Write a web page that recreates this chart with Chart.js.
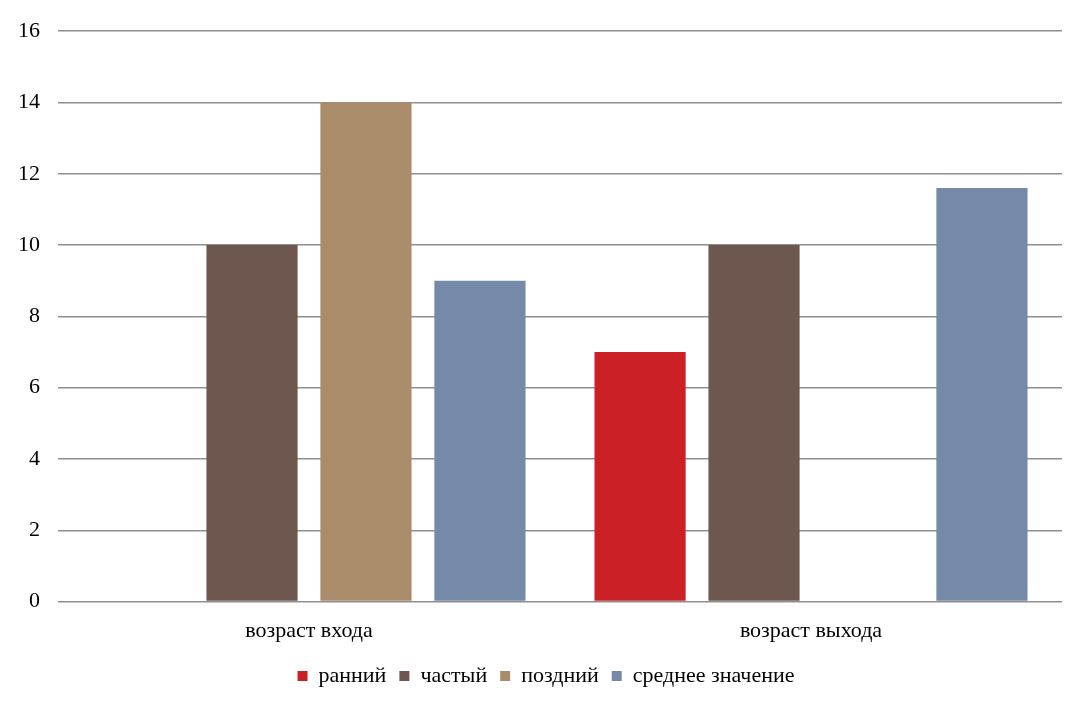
<!DOCTYPE html>
<html>
<head>
<meta charset="utf-8">
<script src="https://cdn.jsdelivr.net/npm/chart.js@4/dist/chart.umd.min.js"></script>
<style>
  body { margin: 0; background: #fff; }
  #wrap { width: 1075px; height: 702px; }
</style>
</head>
<body>
<div id="wrap"><canvas id="grafico" width="1075" height="702"></canvas></div>
<script>
const categorias = ['возраст входа', 'возраст выхода'];
const ranniy = [null, 7];
const chastyy = [10, 10];
const pozdniy = [14, null];
const srednee = [9, 11.6];
const ticksY = [0, 2, 4, 6, 8, 10, 12, 14, 16];

const cores = ['#cc2027', '#6e574f', '#aa8c6a', '#758aa8'];
const fonte = '"Liberation Serif", "Times New Roman", serif';

Chart.defaults.font.family = fonte;
Chart.defaults.color = '#000';

// empurra a legenda um pouco para a direita, como no original
const deslocaLegenda = {
    id: 'deslocaLegenda',
    afterLayout(chart) {
        chart.legend.left += 15;
        chart.legend.right += 15;
    }
};

const ctx = document.getElementById('grafico').getContext('2d');
new Chart(ctx, {
    type: 'bar',
    data: {
        labels: categorias,
        datasets: [
            { label: 'ранний', data: ranniy, backgroundColor: cores[0] },
            { label: 'частый', data: chastyy, backgroundColor: cores[1] },
            { label: 'поздний', data: pozdniy, backgroundColor: cores[2] },
            { label: 'среднее значение', data: srednee, backgroundColor: cores[3] }
        ]
    },
    options: {
        responsive: false,
        animation: false,
        barPercentage: 0.8,
        categoryPercentage: 0.908,
        layout: { padding: { top: 24, right: 13, left: 0, bottom: 5 } },
        scales: {
            x: {
                grid: { display: false },
                border: { display: false },
                ticks: { font: { size: 22 }, padding: 8 }
            },
            y: {
                min: 0,
                max: 16,
                afterBuildTicks: axis => { axis.ticks = ticksY.map(v => ({ value: v })); },
                afterFit: axis => { axis.width = 58; },
                grid: { color: '#8f8f8f', lineWidth: 1.6, drawTicks: false },
                border: { display: false },
                ticks: { font: { size: 22 }, padding: 18 }
            }
        },
        plugins: {
            legend: {
                position: 'bottom',
                labels: { boxWidth: 10, boxHeight: 10, font: { size: 22 }, padding: 13 }
            },
            tooltip: { enabled: false }
        }
    },
    plugins: [deslocaLegenda]
});
</script>
</body>
</html>
